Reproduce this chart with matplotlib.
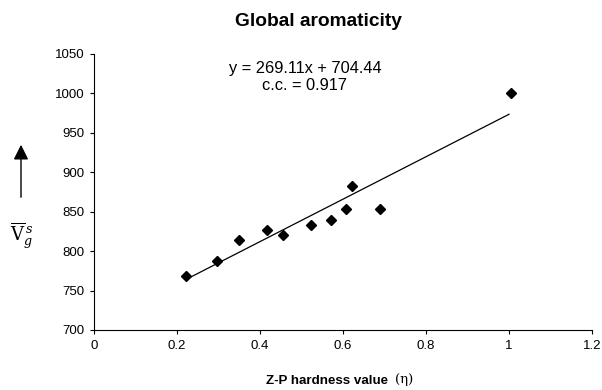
import matplotlib
matplotlib.use("Agg")
import matplotlib.pyplot as plt
import numpy as np

plt.rcParams['font.family'] = ['Liberation Sans', 'DejaVu Sans']

hardness = [0.222, 0.297, 0.350, 0.417, 0.455, 0.523, 0.571, 0.608, 0.622, 0.688, 1.004]
vgs = [769, 787, 814, 827, 821, 833, 839, 854, 883, 854, 1001]
slope, intercept = 269.11, 704.44
fit_range = [0.222, 1.0]

xticks = [0, 0.2, 0.4, 0.6, 0.8, 1, 1.2]
xticklabels = ['0', '0.2', '0.4', '0.6', '0.8', '1', '1.2']
yticks = [700, 750, 800, 850, 900, 950, 1000, 1050]

fig = plt.figure(figsize=(6.02, 3.9), dpi=100)
ax = fig.add_axes([94/602, 60/390, (592-94)/602, (330-54)/390])

fx = np.array(fit_range)
ax.plot(fx, slope*fx + intercept, color='black', lw=0.9)
ax.plot(hardness, vgs, linestyle='none', marker='D', markersize=5.5, color='black')

ax.set_xlim(0, 1.2)
ax.set_ylim(700, 1050)
ax.set_xticks(xticks)
ax.set_xticklabels(xticklabels)
ax.set_yticks(yticks)
ax.tick_params(labelsize=9.5, length=3, width=0.8, direction='out', colors='black', pad=4)
for s in ['top', 'right']:
    ax.spines[s].set_visible(False)
for s in ['left', 'bottom']:
    ax.spines[s].set_linewidth(0.8)

fig.text(318/602, 1 - 22/390, 'Global aromaticity', ha='center', va='center',
         fontsize=13.8, fontweight='bold')
fig.text(305/602, 1 - 68/390, 'y = 269.11x + 704.44', ha='center', va='center', fontsize=11.8)
fig.text(305/602, 1 - 85/390, 'c.c. = 0.917', ha='center', va='center', fontsize=11.8)

fig.text(327/602, 1 - 381/390, 'Z-P hardness value', ha='center', va='center',
         fontsize=9.6, fontweight='bold')
fig.text(404/602, 1 - 379/390, '(η)', ha='center', va='center', fontsize=9.5,
         family=['DejaVu Serif'])

# y-axis label: arrow and V-bar symbol
fig.add_artist(matplotlib.patches.FancyArrowPatch(
    (21/602, 1 - 200/390), (21/602, 1 - 142/390), transform=fig.transFigure,
    arrowstyle='-|>,head_length=6,head_width=3', color='black', lw=1.0, mutation_scale=1.5))
fig.text(22/602, 1 - 236/390, r'$\overline{\mathrm{V}}_{g}^{\,s}$', ha='center', va='center',
         fontsize=13, math_fontfamily='dejavuserif')

fig.savefig('out.png', dpi=100)
